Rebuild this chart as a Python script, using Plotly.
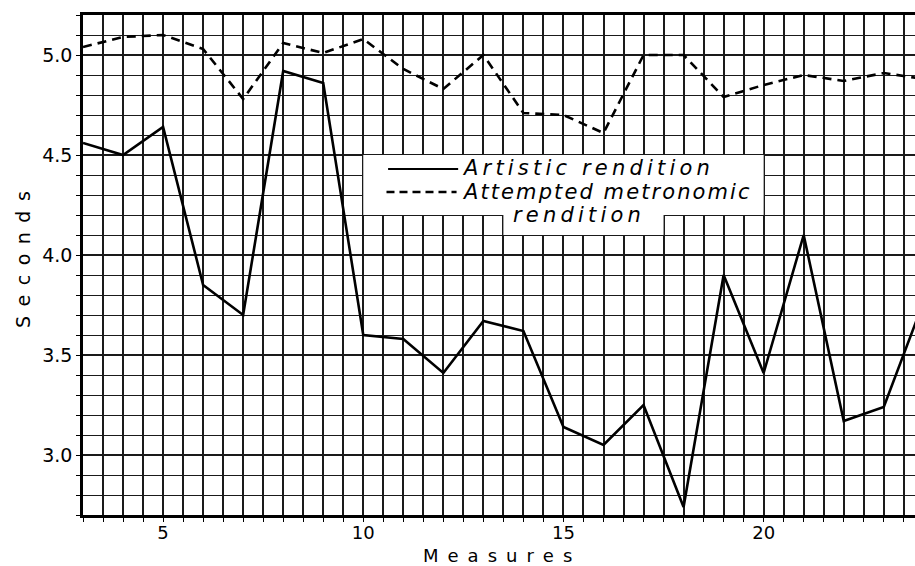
import plotly.graph_objects as go

measures = list(range(3, 25))
artistic = [4.56, 4.50, 4.64, 3.85, 3.70, 4.92, 4.86, 3.60, 3.58, 3.41, 3.67,
            3.62, 3.14, 3.05, 3.25, 2.74, 3.90, 3.41, 4.10, 3.17, 3.24, 3.77]
metronomic = [5.04, 5.09, 5.10, 5.03, 4.78, 5.06, 5.01, 5.08, 4.93, 4.83, 5.00,
              4.71, 4.70, 4.61, 5.00, 5.00, 4.79, 4.85, 4.90, 4.87, 4.91, 4.88]
y_tickvals = [3.0, 3.5, 4.0, 4.5, 5.0]
y_ticktext = ["3.0", "3.5", "4.0", "4.5", "5.0"]
x_tickvals = [5, 10, 15, 20]
legend_lines = ["Artistic rendition", "Attempted metronomic", "rendition"]


def spaced(s, sep="\u2009"):
    return sep.join(s)


FONT = "DejaVu Sans"
fig = go.Figure()
fig.add_trace(go.Scatter(x=measures, y=artistic, mode="lines", name="Artistic rendition",
                         line=dict(color="black", width=2.6)))
fig.add_trace(go.Scatter(x=measures, y=metronomic, mode="lines",
                         name="Attempted metronomic rendition",
                         line=dict(color="black", width=2.6, dash="9px,6px")))

# legend box (white panel covering grid)
fig.add_shape(type="rect", x0=10, x1=20, y0=4.2, y1=4.5, xref="x", yref="y",
              fillcolor="white", line=dict(width=0), layer="above")
fig.add_shape(type="rect", x0=13.5, x1=17.5, y0=4.1, y1=4.2, xref="x", yref="y",
              fillcolor="white", line=dict(width=0), layer="above")
# legend sample lines
fig.add_shape(type="line", x0=10.62, x1=12.37, y0=4.43, y1=4.43, xref="x", yref="y",
              line=dict(color="black", width=2), layer="above")
fig.add_shape(type="line", x0=10.58, x1=12.33, y0=4.315, y1=4.315, xref="x", yref="y",
              line=dict(color="black", width=2.5, dash="8px,5px"), layer="above")

legfont = dict(family=FONT, size=21, color="black", style="italic")
fig.add_annotation(x=12.42, y=4.435, xref="x", yref="y", text=spaced(legend_lines[0]),
                   showarrow=False, xanchor="left", yanchor="middle", font=legfont)
fig.add_annotation(x=12.42, y=4.315, xref="x", yref="y",
                   text=spaced(legend_lines[1], "\u200a"),
                   showarrow=False, xanchor="left", yanchor="middle", font=legfont)
fig.add_annotation(x=15.35, y=4.20, xref="x", yref="y", text=spaced(legend_lines[2]),
                   showarrow=False, xanchor="center", yanchor="middle", font=legfont)

# axis titles
titlefont = dict(family=FONT, size=19, color="black")
fig.add_annotation(x=(497 - 83) / 832, y=-(555 - 515) / 500, xref="paper", yref="paper",
                   text=spaced("Measures", "\u2002"),
                   showarrow=False, xanchor="center", yanchor="middle",
                   font=dict(family=FONT, size=18, color="black"))
fig.add_annotation(x=-(83 - 23) / 832, y=(515 - 260) / 500, xref="paper", yref="paper",
                   text=spaced("Seconds", "\u2002"), textangle=-90,
                   showarrow=False, xanchor="center", yanchor="middle", font=titlefont)

gridc = "#1a1a1a"
fig.update_xaxes(range=[3, 23.78], tickvals=x_tickvals, showgrid=True, gridcolor=gridc,
                 gridwidth=1.6, minor=dict(dtick=0.5, tick0=3, showgrid=True, gridcolor=gridc,
                                           gridwidth=1.6, ticks="outside", ticklen=4, tickcolor="black"),
                 ticks="outside", ticklen=4, tickcolor="black", automargin=False,
                 ticklabelstandoff=-4,
                 showline=True, linecolor="black", linewidth=2.5, mirror=True, zeroline=False,
                 tickfont=dict(family=FONT, size=18, color="black"))
fig.update_yaxes(range=[2.7, 5.2], tickvals=y_tickvals, ticktext=y_ticktext, showgrid=True,
                 gridcolor=gridc, gridwidth=2.2, automargin=False,
                 minor=dict(dtick=0.1, tick0=2.7, showgrid=True, gridcolor=gridc, gridwidth=1.4,
                            ticks="outside", ticklen=4, tickcolor="black"),
                 ticks="outside", ticklen=4, tickcolor="black",
                 showline=True, linecolor="black", linewidth=2.5, mirror=False, zeroline=False,
                 tickfont=dict(family=FONT, size=19, color="black"))

fig.update_layout(width=915, height=566, margin=dict(l=83, r=0, t=15, b=51),
                  plot_bgcolor="white", paper_bgcolor="white", showlegend=False)
# remove the page's default body margin so the figure fills the window exactly
fig.write_html("out.html", config={"displayModeBar": False},
               post_script="document.body.style.margin='0';document.body.style.overflow='hidden';")
